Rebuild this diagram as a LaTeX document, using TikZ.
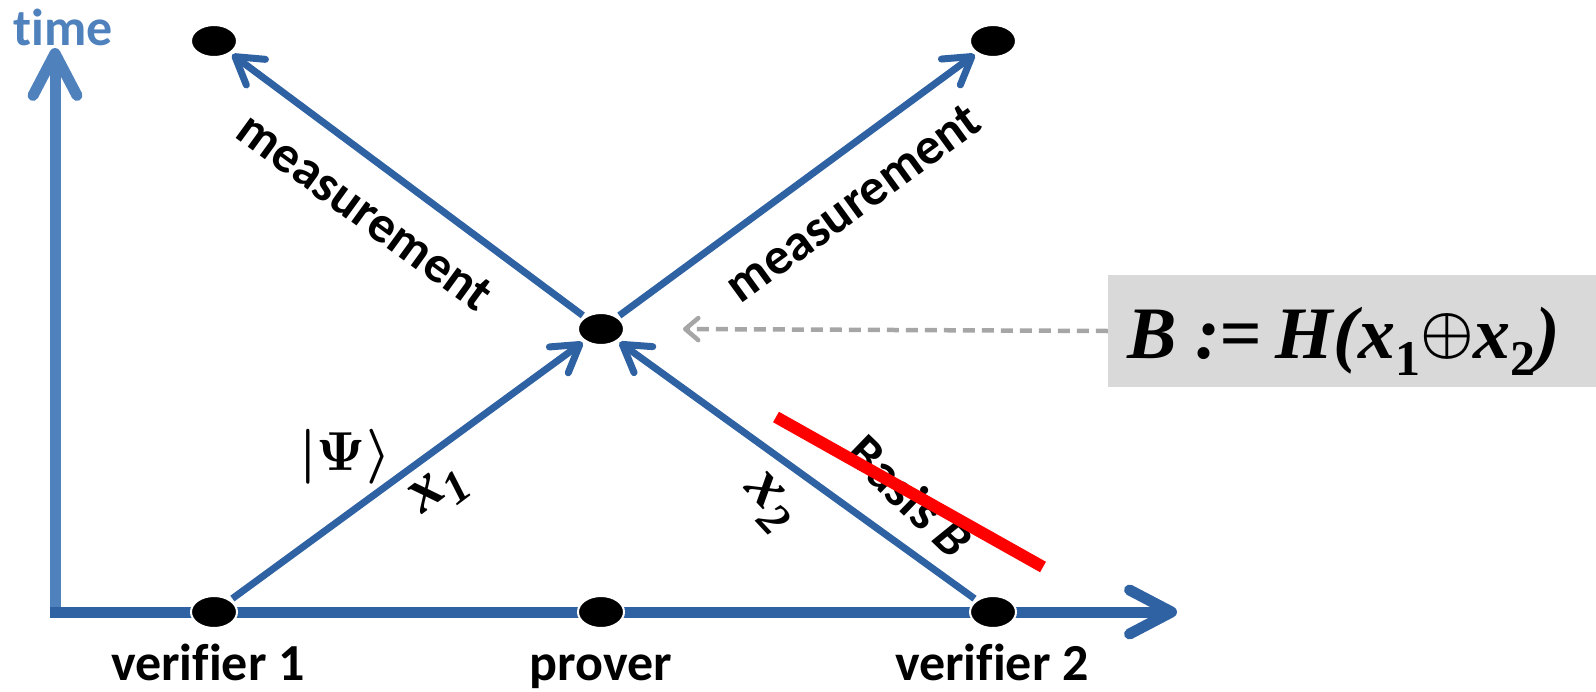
\documentclass[tikz,border=0pt]{standalone}
\usepackage{fontspec}
\setmainfont{Liberation Serif}
\newfontfamily\labfont{Carlito}[Ligatures=NoCommon]
\usetikzlibrary{arrows.meta,shapes.geometric}
\definecolor{axisblue}{RGB}{79,129,189}
\definecolor{lineblue}{RGB}{47,98,163}
\definecolor{boxgray}{RGB}{217,217,217}
\definecolor{dashgray}{RGB}{166,166,166}
\newcommand{\subsc}[1]{\raisebox{-0.22em}{\fontsize{46}{46}\selectfont #1}}
\newcommand{\boxsub}[1]{\raisebox{-17pt}{\fontsize{50}{50}\selectfont\upshape #1}}
\begin{document}
\begin{tikzpicture}[x=1pt,y=-1pt,
  dot/.style={ellipse,fill=black,draw=white,line width=2pt,minimum width=46pt,minimum height=32pt,inner sep=0pt,outer sep=3pt},
  bigtip/.style={-{Straight Barb[length=42pt,width=44pt,line cap=round,line join=round]}},
  axisv/.style={draw=axisblue,line width=11pt,bigtip},
  axish/.style={draw=lineblue,line width=11pt,bigtip},
  diag/.style={draw=lineblue,line width=7pt,-{Straight Barb[length=26pt,width=32pt,line cap=round,line join=round]}},
  dasharr/.style={draw=dashgray,line width=4.5pt,dash pattern=on 12pt off 7pt,-{Straight Barb[length=13pt,width=22pt,line cap=round,line join=round]}},
  lab/.style={font=\labfont\bfseries\fontsize{52}{60}\selectfont,inner sep=0pt},
  mathlab/.style={font=\bfseries\itshape\fontsize{64}{70}\selectfont,inner sep=0pt},
  graybox/.style={fill=boxgray,draw=none,minimum width=488pt,minimum height=112pt,inner sep=0pt},
  redbar/.style={draw=red,line width=12pt}
]
\useasboundingbox (0,0) rectangle (1596,691);
% axes
\coordinate (o) at (55,617);
\coordinate (ttop) at (55,48);
\coordinate (hstart) at (50,612);
\coordinate (hend) at (1177,612);
\draw[axisv] (o) -- (ttop);
\draw[axish] (hstart) -- (hend);
\node[lab,text=axisblue,anchor=base] (time) at (63,45) {time};
% dots
\node[dot] (tl) at (214,41) {};
\node[dot] (tr) at (993,41) {};
\node[dot] (m) at (601,329) {};
\node[dot] (v1) at (214,612) {};
\node[dot] (p) at (601,612) {};
\node[dot] (v2) at (993,612) {};
% diagonal arrows
\draw[diag] (v1) -- (m);
\draw[diag] (v2) -- (m);
\draw[diag] (m) -- (tl);
\draw[diag] (m) -- (tr);
% labels
\node[lab,rotate=-36] (meas1) at (365,212) {measurement};
\node[lab,rotate=36] (meas2) at (853,203) {measurement};
\node[inner sep=0pt] (psi) at (345,457) {\scalebox{5.5}{\boldmath$|\Psi\rangle$}};
\node[mathlab,rotate=37] (x1) at (440,492) {x\subsc{1}};
\node[mathlab,rotate=-47] (x2) at (768,503) {x\subsc{2}};
\node[lab,rotate=-44] (basis) at (910,496) {Basis \textit{B}};
\draw[redbar] (776,417) -- (1043,567);
% box and dashed arrow
\node[graybox] (bx) at (1352,331) {};
\node[inner sep=0pt,anchor=base west,font=\bfseries\itshape\fontsize{74}{80}\selectfont] (btext) at (1127,358)
  {B :=\kern14pt H(x\boxsub{1}\raisebox{7pt}{\scalebox{6}{\fontsize{10}{12}\selectfont\boldmath$\oplus$}}x\boxsub{2})};
\coordinate (dtip) at (683,329);
\draw[dasharr] (bx.west) -- (dtip);
% bottom labels
\node[lab,anchor=base] (lv1) at (208,680) {verifier 1};
\node[lab,anchor=base] (lp) at (601,680) {prover};
\node[lab,anchor=base] (lv2) at (992,680) {verifier 2};
\end{tikzpicture}
\end{document}
